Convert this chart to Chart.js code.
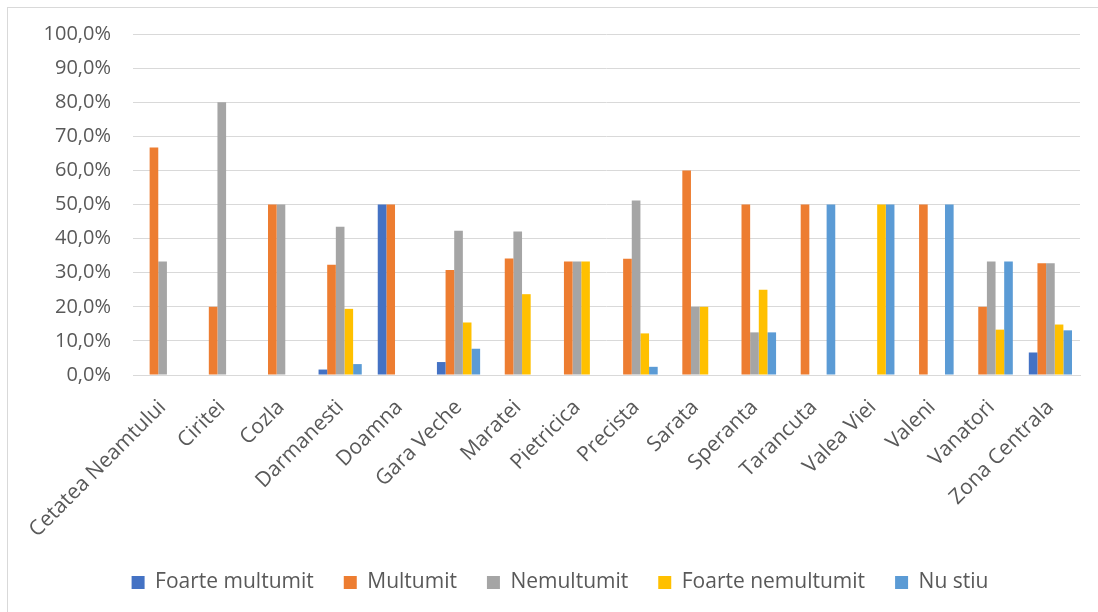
<!DOCTYPE html>
<html>
<head>
<meta charset="utf-8">
<script src="https://cdn.jsdelivr.net/npm/chart.js@4"></script>
<style>
  html, body { margin: 0; padding: 0; background: #fff; }
  #wrap { position: absolute; left: 0; top: 0; width: 1098px; height: 612px; }
  #frame { position: absolute; left: 7px; top: 7px; width: 1100px; height: 620px;
           border-left: 1px solid #d9d9d9; border-top: 1px solid #d9d9d9; }
</style>
</head>
<body>
<div id="frame"></div>
<div id="wrap"><canvas id="chart"></canvas></div>
<script>
// cartiere
const categorii = ['Cetatea Neamtului', 'Ciritei', 'Cozla', 'Darmanesti', 'Doamna', 'Gara Veche',
  'Maratei', 'Pietricica', 'Precista', 'Sarata', 'Speranta', 'Tarancuta', 'Valea Viei',
  'Valeni', 'Vanatori', 'Zona Centrala']

// procente
const foarteMultumit   = [0, 0, 0, 1.6, 50, 3.8, 0, 0, 0, 0, 0, 0, 0, 0, 0, 6.6]
const multumit         = [66.7, 20, 50, 32.3, 50, 30.8, 34.2, 33.3, 34.1, 60, 50, 50, 0, 50, 20, 32.8]
const nemultumit       = [33.3, 80, 50, 43.5, 0, 42.3, 42.1, 33.3, 51.2, 20, 12.5, 0, 0, 0, 33.3, 32.8]
const foarteNemultumit = [0, 0, 0, 19.4, 0, 15.4, 23.7, 33.3, 12.2, 20, 25, 0, 50, 0, 13.3, 14.8]
const nuStiu           = [0, 0, 0, 3.2, 0, 7.7, 0, 0, 2.4, 0, 12.5, 50, 50, 50, 33.3, 13.1]

const FONT = '"Open Sans", Lato, sans-serif'
const TEXT = '#595959'

new Chart(document.getElementById('chart'), {
  type: 'bar',
  data: {
    labels: categorii,
    datasets: [
      { label: 'Foarte multumit', data: foarteMultumit, backgroundColor: '#4472c4' },
      { label: 'Multumit', data: multumit, backgroundColor: '#ed7d31' },
      { label: 'Nemultumit', data: nemultumit, backgroundColor: '#a5a5a5' },
      { label: 'Foarte nemultumit', data: foarteNemultumit, backgroundColor: '#ffc000' },
      { label: 'Nu stiu', data: nuStiu, backgroundColor: '#5b9bd5' }
    ]
  },
  options: {
    responsive: true,
    maintainAspectRatio: false,
    animation: false,
    datasets: { bar: { categoryPercentage: 0.73, barPercentage: 1 } },
    layout: { padding: { left: 40, right: 18, top: 32, bottom: 9 } },
    plugins: {
      tooltip: { enabled: false },
      legend: {
        position: 'bottom',
        labels: { font: { family: FONT, size: 21 }, color: TEXT, boxWidth: 13, boxHeight: 13, padding: 30 }
      }
    },
    scales: {
      x: {
        grid: { display: false },
        border: { color: '#d9d9d9', width: 1 },
        ticks: { font: { family: FONT, size: 21 }, color: TEXT, minRotation: 45, maxRotation: 45, autoSkip: false, padding: 12 },
        afterFit: function (scale) { scale.height = 167 }
      },
      y: {
        min: 0, max: 100,
        grid: { color: '#d9d9d9', lineWidth: 1, drawTicks: false },
        border: { display: false },
        ticks: {
          stepSize: 10, padding: 22,
          font: { family: FONT, size: 20 }, color: TEXT,
          callback: function (v) { return v.toFixed(1).replace('.', ',') + '%' }
        },
        afterFit: function (scale) { scale.width = 93 }
      }
    }
  }
})
</script>
</body>
</html>
